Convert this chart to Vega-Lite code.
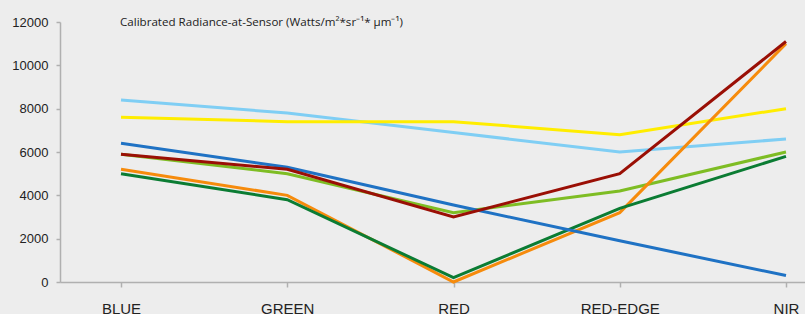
{
  "$schema": "https://vega.github.io/schema/vega-lite/v6.json",
  "autosize": "none",
  "padding": {"left": 60, "top": 22, "right": 0, "bottom": 32},
  "width": 787,
  "height": 260,
  "background": "#ededed",
  "title": {
    "text": "Calibrated Radiance-at-Sensor (Watts/m²*sr⁻¹* µm⁻¹)",
    "anchor": "start",
    "frame": "group",
    "orient": "top",
    "offset": 0,
    "baseline": "middle",
    "dx": 60,
    "dy": 19,
    "font": "Open Sans",
    "fontSize": 11.6,
    "fontWeight": "normal",
    "color": "#222222"
  },
  "config": {
    "view": {"stroke": null},
    "axis": {"grid": false, "domainColor": "#b0b0b0", "tickColor": "#b0b0b0", "domainWidth": 1.5, "tickWidth": 1.5, "labelColor": "#222222", "labelFont": "Liberation Sans", "title": null}
  },
  "data": {
    "values": [
      {"band": "BLUE", "series": "s1", "v": 8400}, {"band": "GREEN", "series": "s1", "v": 7800}, {"band": "RED", "series": "s1", "v": 6900}, {"band": "RED-EDGE", "series": "s1", "v": 6000}, {"band": "NIR", "series": "s1", "v": 6600},
      {"band": "BLUE", "series": "s2", "v": 7600}, {"band": "GREEN", "series": "s2", "v": 7400}, {"band": "RED", "series": "s2", "v": 7400}, {"band": "RED-EDGE", "series": "s2", "v": 6800}, {"band": "NIR", "series": "s2", "v": 8000},
      {"band": "BLUE", "series": "s3", "v": 5900}, {"band": "GREEN", "series": "s3", "v": 5000}, {"band": "RED", "series": "s3", "v": 3200}, {"band": "RED-EDGE", "series": "s3", "v": 4200}, {"band": "NIR", "series": "s3", "v": 6000},
      {"band": "BLUE", "series": "s4", "v": 5200}, {"band": "GREEN", "series": "s4", "v": 4000}, {"band": "RED", "series": "s4", "v": 0}, {"band": "RED-EDGE", "series": "s4", "v": 3200}, {"band": "NIR", "series": "s4", "v": 11000},
      {"band": "BLUE", "series": "s5", "v": 5000}, {"band": "GREEN", "series": "s5", "v": 3800}, {"band": "RED", "series": "s5", "v": 200}, {"band": "RED-EDGE", "series": "s5", "v": 3400}, {"band": "NIR", "series": "s5", "v": 5800},
      {"band": "BLUE", "series": "s6", "v": 6400}, {"band": "GREEN", "series": "s6", "v": 5300}, {"band": "RED", "series": "s6", "v": 3550}, {"band": "RED-EDGE", "series": "s6", "v": 1900}, {"band": "NIR", "series": "s6", "v": 300},
      {"band": "BLUE", "series": "s7", "v": 5900}, {"band": "GREEN", "series": "s7", "v": 5200}, {"band": "RED", "series": "s7", "v": 3000}, {"band": "RED-EDGE", "series": "s7", "v": 5000}, {"band": "NIR", "series": "s7", "v": 11100}
    ]
  },
  "mark": {"type": "line", "strokeWidth": 3},
  "encoding": {
    "x": {
      "field": "band", "type": "ordinal",
      "sort": ["BLUE", "GREEN", "RED", "RED-EDGE", "NIR"],
      "scale": {"type": "point", "padding": 0.367},
      "axis": {"labelAngle": 0, "labelFontSize": 15, "labelPadding": 14, "tickSize": 5}
    },
    "y": {
      "field": "v", "type": "quantitative",
      "scale": {"domain": [0, 12000], "nice": false},
      "axis": {"values": [0, 2000, 4000, 6000, 8000, 10000, 12000], "format": "d", "labelFontSize": 13, "labelPadding": 8, "tickSize": 4}
    },
    "color": {
      "field": "series", "type": "nominal",
      "scale": {"domain": ["s1", "s2", "s3", "s4", "s5", "s6", "s7"], "range": ["#7fcef4", "#ffed00", "#7ebd24", "#f68b0c", "#0b7c33", "#1f72c4", "#9a0f05"]},
      "legend": null
    }
  }
}
